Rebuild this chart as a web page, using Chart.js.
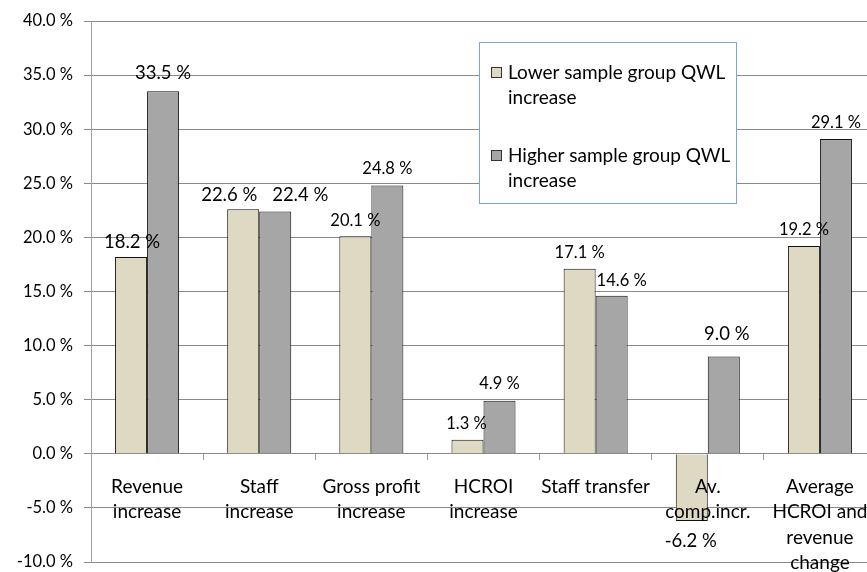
<!DOCTYPE html>
<html>
<head>
<meta charset="utf-8">
<script src="https://cdn.jsdelivr.net/npm/chart.js@4/dist/chart.umd.min.js"></script>
<style>
  html, body { margin: 0; padding: 0; background: #ffffff; overflow: hidden; }
  #wrap { width: 876px; height: 572px; }
</style>
</head>
<body>
<div id="wrap"><canvas id="c" width="876" height="572"></canvas></div>
<script>
// Categories (multi-line axis labels)
const categories = [
  ['Revenue', 'increase'],
  ['Staff', 'increase'],
  ['Gross profit', 'increase'],
  ['HCROI', 'increase'],
  ['Staff transfer'],
  ['Av.', 'comp.incr.'],
  ['Average', 'HCROI and', 'revenue', 'change']
];

// Series names, split the way the legend wraps them
const lowerName = ['Lower sample group QWL', 'increase'];
const higherName = ['Higher sample group QWL', 'increase'];

// Series values (%)
const lowerValues = [18.2, 22.6, 20.1, 1.3, 17.1, -6.2, 19.2];
const higherValues = [33.5, 22.4, 24.8, 4.9, 14.6, 9.0, 29.1];

// Value axis ticks (%)
const yTickValues = [-10, -5, 0, 5, 10, 15, 20, 25, 30, 35, 40];

const FONT = 'Lato, "Open Sans", sans-serif';

// Value-label styling: [dx, dy, fontSize] relative to the bar end
const lowerLabelStyle = [
  [1, -15, 18.5], [-14, -14, 18.5], [0, -16, 16.5], [-1, -16, 16.5],
  [0, -16, 16.5], [-1, 20, 18.5], [0, -16, 16.5]
];
const higherLabelStyle = [
  [0, -18, 18.5], [25, -16, 18.5], [0, -17, 16.5], [0, -17, 16.5],
  [10, -15, 16.5], [3, -22, 18.5], [0, -16, 16.5]
];

const valueLabels = {
  id: 'valueLabels',
  afterDatasetsDraw(chart) {
    const ctx = chart.ctx;
    const styles = [lowerLabelStyle, higherLabelStyle];
    ctx.save();
    ctx.fillStyle = '#000000';
    ctx.textAlign = 'center';
    ctx.textBaseline = 'middle';
    chart.data.datasets.forEach((ds, di) => {
      const meta = chart.getDatasetMeta(di);
      meta.data.forEach((bar, i) => {
        const v = ds.data[i];
        const [dx, dy, fs] = styles[di][i];
        ctx.font = fs + 'px ' + FONT;
        ctx.fillText(v.toFixed(1) + ' %', bar.x + dx, bar.y + dy);
      });
    });
    ctx.restore();
  }
};

const boxLegend = {
  id: 'boxLegend',
  afterDatasetsDraw(chart) {
    const ctx = chart.ctx;
    const names = [lowerName, higherName];
    const bx = 479.5, by = 42.5, bw = 257, bh = 161;
    ctx.save();
    ctx.fillStyle = '#ffffff';
    ctx.fillRect(bx, by, bw, bh);
    ctx.strokeStyle = '#7fa3d6';
    ctx.lineWidth = 1;
    ctx.strokeRect(bx, by, bw, bh);
    const rows = [73, 156];
    ctx.font = '19px ' + FONT;
    ctx.textAlign = 'left';
    ctx.textBaseline = 'middle';
    chart.data.datasets.forEach((ds, di) => {
      const y0 = rows[di];
      ctx.fillStyle = ds.backgroundColor;
      ctx.fillRect(491.5, y0 - 5.5, 10, 10);
      ctx.strokeStyle = '#333333';
      ctx.strokeRect(491.5, y0 - 5.5, 10, 10);
      ctx.fillStyle = '#000000';
      names[di].forEach((line, li) => {
        ctx.fillText(line, 508, y0 + li * 25);
      });
    });
    ctx.restore();
  }
};

// Keep the plot area fixed to the layout padding only
function noScalePadding(scale) {
  scale.paddingTop = 0;
  scale.paddingBottom = 0;
  scale.paddingLeft = 0;
  scale.paddingRight = 0;
}

new Chart(document.getElementById('c'), {
  type: 'bar',
  data: {
    labels: categories,
    datasets: [
      {
        label: lowerName.join(' '),
        data: lowerValues,
        backgroundColor: '#ddd9c3',
        borderColor: '#111111',
        borderWidth: 1
      },
      {
        label: higherName.join(' '),
        data: higherValues,
        backgroundColor: '#a6a6a6',
        borderColor: '#111111',
        borderWidth: 1
      }
    ]
  },
  options: {
    responsive: false,
    animation: false,
    layout: { padding: { top: 21, bottom: 10, left: 0, right: 0 } },
    datasets: {
      bar: { barPercentage: 1, categoryPercentage: 0.571 }
    },
    plugins: {
      legend: { display: false },
      tooltip: { enabled: false }
    },
    scales: {
      x: {
        type: 'category',
        position: { y: 0 },
        offset: true,
        afterFit: noScalePadding,
        grid: {
          offset: true,
          drawOnChartArea: false,
          drawTicks: true,
          tickLength: 6,
          color: '#9a9a9a'
        },
        border: { display: false },
        ticks: {
          z: 1,
          autoSkip: false,
          maxRotation: 0,
          minRotation: 0,
          padding: 14,
          color: '#000000',
          font: { family: FONT, size: 19, lineHeight: '25.5px' }
        }
      },
      y: {
        min: -10,
        max: 40,
        afterFit(scale) { scale.width = 91; noScalePadding(scale); },
        afterBuildTicks(scale) {
          scale.ticks = yTickValues.map(v => ({ value: v }));
        },
        grid: {
          color: '#8a8a8a',
          lineWidth: 1,
          tickLength: 7,
          drawTicks: true
        },
        border: { color: '#a0a0a0', width: 1 },
        ticks: {
          padding: 11,
          color: '#000000',
          font: { family: FONT, size: 16.5 },
          callback: v => v.toFixed(1) + ' %'
        }
      }
    }
  },
  plugins: [valueLabels, boxLegend]
});
</script>
</body>
</html>
